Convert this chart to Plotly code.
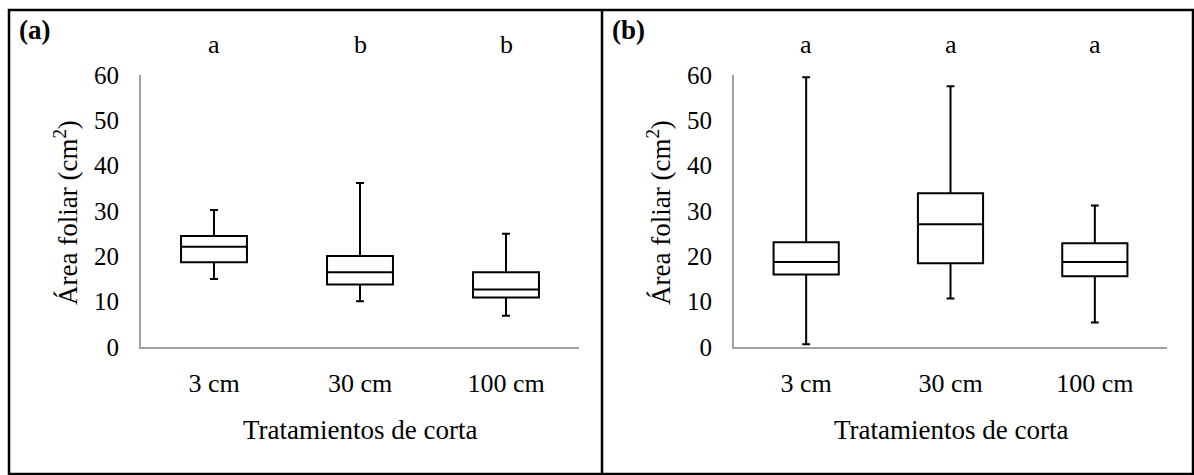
import plotly.graph_objects as go

W, H = 1194, 475

categories = ["3 cm", "30 cm", "100 cm"]

# Panel (a)
a_low = [15.0, 10.1, 6.9]
a_q1 = [18.7, 13.8, 10.9]
a_med = [22.1, 16.5, 12.7]
a_q3 = [24.5, 20.1, 16.5]
a_high = [30.2, 36.2, 25.0]
a_letters = ["a", "b", "b"]

# Panel (b)
b_low = [0.6, 10.7, 5.4]
b_q1 = [16.0, 18.5, 15.6]
b_med = [18.75, 27.1, 18.75]
b_q3 = [23.1, 33.9, 22.9]
b_high = [59.5, 57.5, 31.2]
b_letters = ["a", "a", "a"]

y_ticks = [0, 10, 20, 30, 40, 50, 60]
panel_tags = ["(a)", "(b)"]
x_title = "Tratamientos de corta"
y_title = "Área foliar (cm<sup>2</sup>)"

FONT = "Liberation Serif, Times New Roman, serif"
FS = 26


def px(x):
    return x / W


def py(y):
    return 1 - y / H


fig = go.Figure()

for i, (lo, q1, med, q3, hi) in enumerate([
    (a_low, a_q1, a_med, a_q3, a_high),
    (b_low, b_q1, b_med, b_q3, b_high),
]):
    sfx = "" if i == 0 else "2"
    fig.add_trace(go.Box(
        x=categories,
        q1=q1, median=med, q3=q3,
        lowerfence=lo, upperfence=hi,
        xaxis="x" + sfx, yaxis="y" + sfx,
        line=dict(color="black", width=2),
        fillcolor="white",
        whiskerwidth=0.12,
        boxpoints=False,
        hoverinfo="skip",
        showlegend=False,
    ))

axis_common_x = dict(
    type="category", categoryorder="array", categoryarray=categories,
    range=[-0.5, 2.5], showline=True, linecolor="#a0a0a0", linewidth=2,
    showgrid=False, zeroline=False, ticks="", automargin=False,
    tickfont=dict(family=FONT, size=FS, color="black"),
    ticklabelstandoff=12,
)
axis_common_y = dict(
    range=[0, 60], tickvals=y_ticks, showline=True, linecolor="#a0a0a0",
    linewidth=2, showgrid=False, zeroline=False, ticks="", automargin=False,
    tickfont=dict(family=FONT, size=FS - 1, color="black"),
    ticklabelstandoff=15,
)

ydom = [py(347), py(75)]

fig.update_layout(
    width=W, height=H, autosize=False,
    margin=dict(l=0, r=0, t=0, b=0, pad=0, autoexpand=False),
    paper_bgcolor="white", plot_bgcolor="white",
    boxgap=0.355,
    xaxis=dict(domain=[px(141), px(579)], anchor="y", **axis_common_x),
    yaxis=dict(domain=ydom, anchor="x", **axis_common_y),
    xaxis2=dict(domain=[px(734), px(1167)], anchor="y2", **axis_common_x),
    yaxis2=dict(domain=ydom, anchor="x2", **axis_common_y),
)

annotations = []
centers = [(141 + 579) / 2, (734 + 1167) / 2]
tag_x = [17, 610]
ytitle_x = [66, 659]
for i, letters in enumerate([a_letters, b_letters]):
    sfx = "" if i == 0 else "2"
    for cat, let in zip(categories, letters):
        annotations.append(dict(
            x=cat, xref="x" + sfx, y=py(45), yref="paper",
            text=let, showarrow=False,
            font=dict(family=FONT, size=FS, color="black"),
            xanchor="center", yanchor="middle",
        ))
    annotations.append(dict(
        x=px(tag_x[i]), xref="paper", y=py(30), yref="paper",
        text="<b>" + panel_tags[i] + "</b>", showarrow=False,
        font=dict(family=FONT, size=FS + 1, color="black"),
        xanchor="left", yanchor="middle",
    ))
    annotations.append(dict(
        x=px(centers[i]), xref="paper", y=py(430), yref="paper",
        text=x_title, showarrow=False,
        font=dict(family=FONT, size=FS + 1, color="black"),
        xanchor="center", yanchor="middle",
    ))
    annotations.append(dict(
        x=px(ytitle_x[i]), xref="paper", y=py(213), yref="paper",
        text=y_title, showarrow=False, textangle=-90,
        font=dict(family=FONT, size=FS + 1, color="black"),
        xanchor="center", yanchor="middle",
    ))

fig.update_layout(annotations=annotations)

shapes = [
    dict(type="rect", xref="paper", yref="paper",
         x0=px(9), x1=px(1193), y0=py(474), y1=py(10),
         line=dict(color="black", width=2.5), fillcolor="rgba(0,0,0,0)"),
    dict(type="line", xref="paper", yref="paper",
         x0=px(602), x1=px(602), y0=py(474), y1=py(10),
         line=dict(color="black", width=2.5)),
]
fig.update_layout(shapes=shapes)

fig.write_html(
    "out.html",
    config={"responsive": False, "displayModeBar": False},
    default_width="1194px", default_height="475px",
    post_script="document.body.style.margin='0';document.body.style.overflow='hidden';",
)
